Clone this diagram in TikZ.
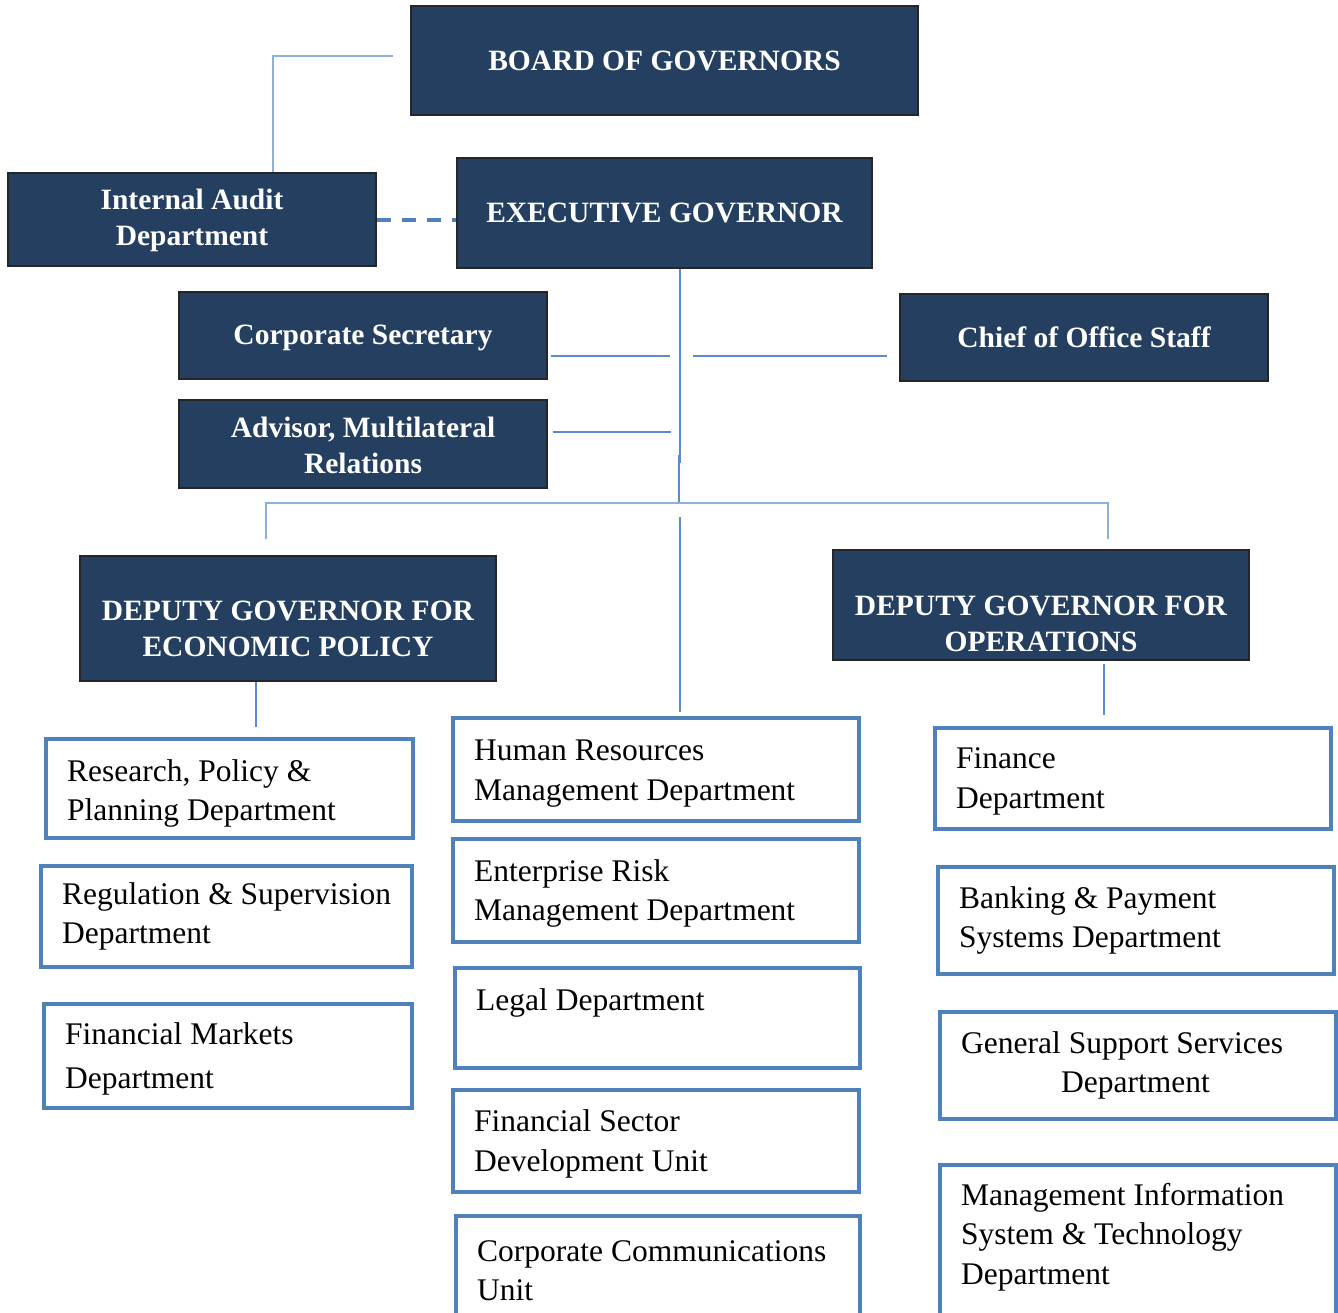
\documentclass[tikz,border=0pt]{standalone}
\usepackage{fontspec}
\setmainfont{Liberation Serif}
\definecolor{navy}{HTML}{243F60}
\definecolor{boxblue}{HTML}{4F81BD}
\definecolor{lineblue}{HTML}{5B8BD0}
\definecolor{paleblue}{HTML}{8FB0DD}
\tikzset{
  hdrbox/.style={draw=black!85, line width=1.5pt, fill=navy, inner sep=0pt},
  hdrtext/.style={text=white, font=\fontsize{29.5}{36}\selectfont\bfseries, align=center, inner sep=0pt},
  deptbox/.style={draw=boxblue, line width=4.5pt, fill=white, inner sep=0pt},
  depttext/.style={text=black, font=\fontsize{31.5}{39.5}\selectfont, align=left, inner sep=0pt, anchor=west},
  conn/.style={draw=lineblue, line width=2pt},
  pale/.style={draw=paleblue, line width=2.5pt},
}
% #1 name, #2 x1, #3 y1, #4 x2, #5 y2, #6 text y-offset, #7 text
\newcommand\mkhdr[7]{%
  \pgfmathsetmacro\bw{#4-#2}\pgfmathsetmacro\bh{#5-#3}%
  \node[hdrbox, minimum width=\bw pt, minimum height=\bh pt] (#1) at ({(#2+#4)/2},{(#3+#5)/2}) {};
  \node[hdrtext] (#1-t) at ({(#2+#4)/2},{(#3+#5)/2+#6}) {#7};}
\newcommand\mkdept[7]{%
  \pgfmathsetmacro\bw{#4-#2}\pgfmathsetmacro\bh{#5-#3}%
  \node[deptbox, minimum width=\bw pt, minimum height=\bh pt] (#1) at ({(#2+#4)/2},{(#3+#5)/2}) {};
  \node[depttext] (#1-t) at ({#2+21},{(#3+#5)/2+#6}) {#7};}
\begin{document}
\begin{tikzpicture}[x=1pt,y=-1pt]
\path[use as bounding box] (0,0) rectangle (1338,1312);
\clip (0,0) rectangle (1338,1312);

% header boxes
\mkhdr{bog}{411}{6}{918}{115}{0}{BOARD OF GOVERNORS}
\mkhdr{ia}{8}{173}{376}{266}{1}{Internal Audit\\Department}
\mkhdr{eg}{457}{158}{872}{268}{0}{EXECUTIVE GOVERNOR}
\mkhdr{cs}{179}{292}{547}{379}{2}{Corporate Secretary}
\mkhdr{cos}{900}{294}{1268}{381}{0}{Chief of Office Staff}
\mkhdr{adv}{179}{400}{547}{488}{1}{Advisor, Multilateral\\Relations}
\mkhdr{dge}{80}{556}{496}{681}{10}{DEPUTY GOVERNOR FOR\\ECONOMIC POLICY}
\mkhdr{dgo}{833}{550}{1249}{660}{19}{DEPUTY GOVERNOR FOR\\OPERATIONS}

% department boxes
\mkdept{rpp}{46}{739}{413}{838}{5}{Research, Policy \&\\Planning Department}
\mkdept{rsd}{41}{866}{412}{967}{0}{Regulation \& Supervision\\Department}
\mkdept{fmd}{44}{1004}{412}{1108}{3}{Financial Markets\\[5pt]Department}
\mkdept{hrm}{453}{718}{859}{821}{4}{Human Resources\\Management Department}
\mkdept{erm}{453}{839}{859}{942}{3}{Enterprise Risk\\Management Department}
\mkdept{leg}{455}{968}{860}{1068}{1}{Legal Department\\\mbox{}}
\mkdept{fsd}{453}{1090}{859}{1192}{3}{Financial Sector\\Development Unit}
\mkdept{ccu}{456}{1216}{860}{1327}{-1}{Corporate Communications\\Unit}
\mkdept{fin}{935}{728}{1331}{829}{3}{Finance\\Department}
\mkdept{bps}{938}{867}{1334}{974}{0}{Banking \& Payment\\Systems Department}
\mkdept{gss}{940}{1012}{1336}{1119}{0}{General Support Services\\\hspace*{100pt}Department}
\mkdept{mis}{940}{1165}{1336}{1333}{-12}{Management Information\\System \& Technology\\Department}

% junction coordinates
\coordinate (a1) at (393,56);
\coordinate (a2) at (273,56);
\coordinate (v1) at (680,463);
\coordinate (v2) at (678.5,455);
\coordinate (v3) at (678.5,503);
\coordinate (bl) at (266,503);
\coordinate (br) at (1108,503);
\coordinate (bld) at (266,539);
\coordinate (brd) at (1108,539);
\coordinate (m1) at (680,517);
\coordinate (m2) at (680,712);
\coordinate (c1) at (670,356);
\coordinate (c2) at (693,356);
\coordinate (c3) at (671,432);
\coordinate (d1) at (256,727);
\coordinate (d2) at (1104,664);
\coordinate (d3) at (1104,715);

% connectors
\draw[pale] (a1) -- (a2) -- (ia.north -| a2);
\draw[draw=boxblue, line width=4pt, dash pattern=on 14pt off 11pt] (ia.east) -- (ia.east -| eg.west);
\draw[conn] (eg.south -| v1) -- (v1);
\draw[conn] (v2) -- (v3);
\draw[pale] (bld) -- (bl) -- (br) -- (brd);
\draw[conn] (m1) -- (m2);
\draw[conn] ([xshift=3pt]cs.east |- c1) -- (c1);
\draw[conn] (c2) -- ([xshift=-12pt]cos.west |- c2);
\draw[conn] ([xshift=5pt]adv.east |- c3) -- (c3);
\draw[conn] (dge.south -| d1) -- (d1);
\draw[conn] (d2) -- (d3);
\end{tikzpicture}
\end{document}
